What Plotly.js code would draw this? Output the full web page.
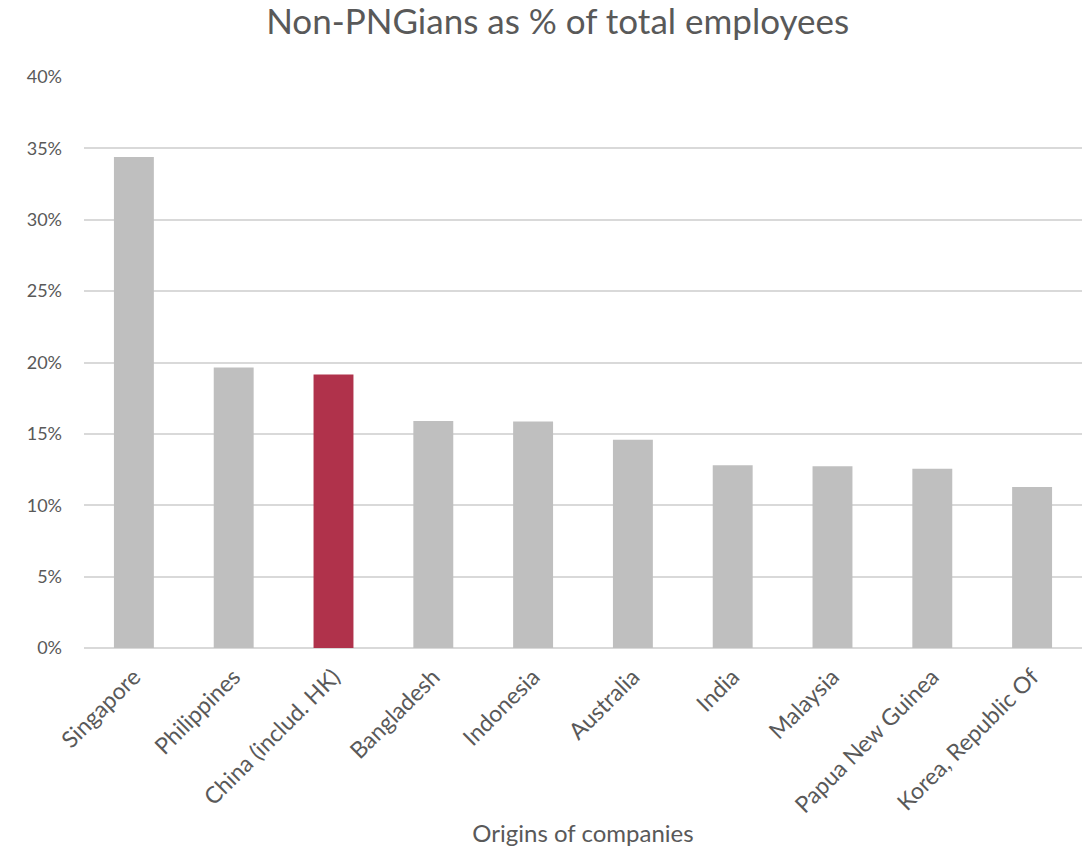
<!DOCTYPE html>
<html>
<head>
<meta charset="utf-8">
<script src="https://cdn.plot.ly/plotly-3.0.1.min.js"></script>
<style>html,body{margin:0;padding:0;background:#fff;}#chart{width:1087px;height:852px;}</style>
</head>
<body>
<div id="chart"></div>
<script>
const categories = ["Singapore", "Philippines", "China (includ. HK)", "Bangladesh", "Indonesia", "Australia", "India", "Malaysia", "Papua New Guinea", "Korea, Republic Of"];
const values = [0.344, 0.1965, 0.1916, 0.159, 0.1587, 0.1458, 0.1281, 0.1274, 0.1255, 0.1127];
const highlight = "China (includ. HK)";
const tickVals = [0, 0.05, 0.10, 0.15, 0.20, 0.25, 0.30, 0.35, 0.40];
const tickText = ["0%", "5%", "10%", "15%", "20%", "25%", "30%", "35%", "40%"];

const colors = categories.map(c => c === highlight ? "#b0324b" : "#bfbfbf");
const font = "Lato, 'Open Sans', sans-serif";

Plotly.newPlot("chart", [{
  type: "bar",
  x: categories,
  y: values,
  marker: {color: colors},
  hoverinfo: "x+y"
}], {
  width: 1087, height: 852,
  margin: {l: 84, r: 5, t: 77, b: 204},
  paper_bgcolor: "#fff", plot_bgcolor: "#fff",
  bargap: 0.6,
  showlegend: false,
  title: {text: "Non-PNGians as % of total employees", font: {family: font, size: 35, color: "#595959"}, x: 0.513, xanchor: "center", y: 0.974, yanchor: "middle"},
  xaxis: {
    tickangle: -45,
    tickfont: {family: font, size: 23, color: "#595959"},
    showgrid: false, showline: false, zeroline: false, ticks: "",
    ticklabelstandoff: 10,
    automargin: false,
    title: {text: "Origins of companies", font: {family: font, size: 24, color: "#595959"}, standoff: 8}
  },
  yaxis: {
    range: [0, 0.40],
    tickvals: tickVals, ticktext: tickText,
    tickfont: {family: font, size: 18, color: "#595959"},
    showgrid: true, gridcolor: "#d9d9d9", gridwidth: 1.5,
    zeroline: true, zerolinecolor: "#d9d9d9", zerolinewidth: 1.5,
    showline: false, ticks: "", ticklabelstandoff: 21, automargin: false
  }
}, {displayModeBar: false});
</script>
</body>
</html>
